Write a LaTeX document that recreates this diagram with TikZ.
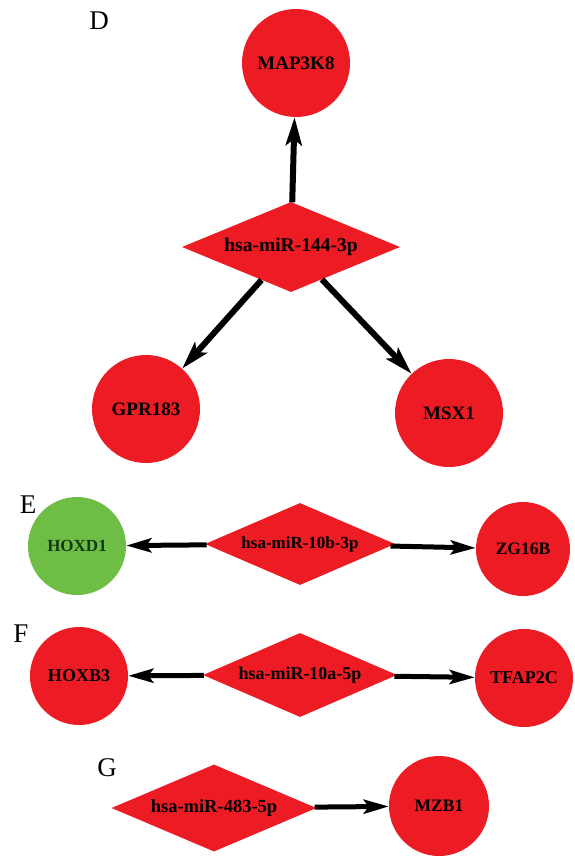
\documentclass[tikz,border=0pt]{standalone}
\usepackage{fontspec}
\setmainfont{Liberation Serif}
\usetikzlibrary{shapes.geometric,arrows.meta}
\definecolor{nodered}{RGB}{237,28,36}
\definecolor{nodegreen}{RGB}{110,190,70}
\definecolor{darkgreentext}{RGB}{18,58,18}
\tikzset{
  gene/.style={circle,fill=nodered,draw=none,inner sep=0pt,minimum size=#1,font=\bfseries\fontsize{19}{20}\selectfont},
  mirna/.style n args={2}{diamond,fill=nodered,draw=none,inner sep=0pt,aspect=2.4,minimum width=#1,minimum height=#2},
  panel/.style={font=\fontsize{27}{28}\selectfont},
  bigarrow/.style={line width=6pt,-{Stealth[length=28pt,width=16pt,inset=6pt]}},
  smallarrow/.style={line width=5pt,-{Stealth[length=25pt,width=14pt,inset=5pt]}}
}
\begin{document}
\begin{tikzpicture}[x=1pt,y=-1pt]
\useasboundingbox (0,0) rectangle (574,859);
% Panel D
\node[panel] (lD) at (99,21) {D};
\node[gene=108pt] (map) at (296,63) {MAP3K8};
\node[mirna={218pt}{90pt},font=\bfseries\fontsize{19.5}{20}\selectfont] (m144) at (291,247) {hsa-miR-144-3p};
\node[gene=108pt] (gpr) at (146,409) {GPR183};
\node[gene=108pt] (msx) at (449,413) {MSX1};
\draw[bigarrow] (m144) -- (map);
\draw[bigarrow] (m144) -- (gpr);
\draw[bigarrow] (m144) -- (msx);
% Panel E
\node[panel] (lE) at (28,505) {E};
\node[gene=98pt,fill=nodegreen,text=darkgreentext,font=\bfseries\fontsize{17}{18}\selectfont] (hoxd) at (77,546) {HOXD1};
\node[mirna={190pt}{82pt},font=\bfseries\fontsize{17}{18}\selectfont] (m10b) at (300,544) {hsa-miR-10b-3p};
\node[gene=94pt,font=\bfseries\fontsize{17.5}{18}\selectfont] (zg) at (523,549) {ZG16B};
\draw[smallarrow] (m10b) -- (hoxd);
\draw[smallarrow] (m10b) -- (zg);
% Panel F
\node[panel] (lF) at (21,634) {F};
\node[gene=98pt,font=\bfseries\fontsize{18}{19}\selectfont] (hoxb) at (79,676) {HOXB3};
\node[mirna={194pt}{84pt},font=\bfseries\fontsize{18}{19}\selectfont] (m10a) at (300,675) {hsa-miR-10a-5p};
\node[gene=98pt,font=\bfseries\fontsize{18}{19}\selectfont] (tfap) at (524,678) {TFAP2C};
\draw[smallarrow] (m10a) -- (hoxb);
\draw[smallarrow] (m10a) -- (tfap);
% Panel G
\node[panel] (lG) at (107,768) {G};
\node[mirna={205pt}{87pt},font=\bfseries\fontsize{18.5}{19}\selectfont] (m483) at (214,808) {hsa-miR-483-5p};
\node[gene=100pt,font=\bfseries\fontsize{17.5}{18}\selectfont] (mzb) at (439,806) {MZB1};
\draw[smallarrow] (m483) -- (mzb);
\end{tikzpicture}
\end{document}
